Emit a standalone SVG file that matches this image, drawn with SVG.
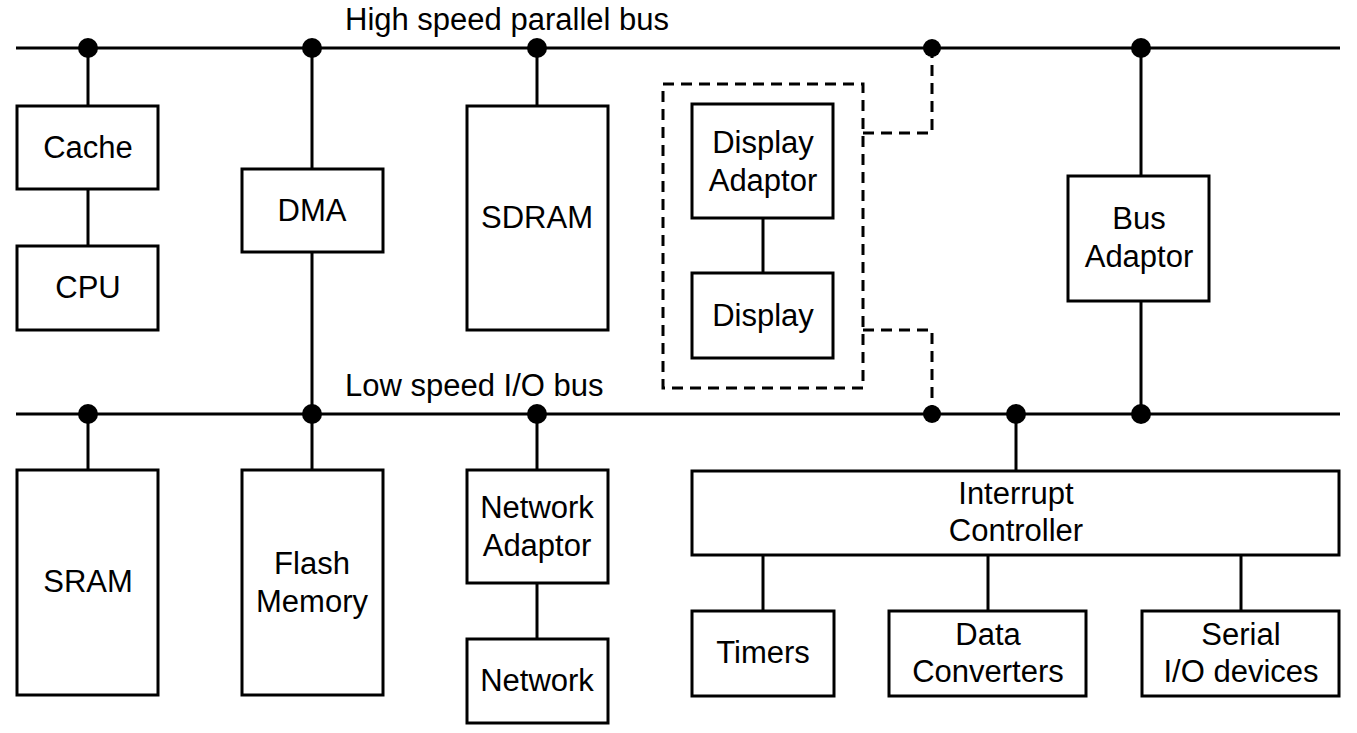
<svg xmlns="http://www.w3.org/2000/svg" width="1357" height="733" viewBox="0 0 1357 733">
<style>
.box{fill:#fff;stroke:#000;stroke-width:3}
.ln{stroke:#000;stroke-width:3;fill:none}
.dash{stroke:#000;stroke-width:3;fill:none;stroke-dasharray:11 7}
.dot{fill:#000}
text{font-family:"Liberation Sans",Arial,sans-serif;font-size:31px;fill:#000;text-anchor:middle}
.lbl{text-anchor:start}
</style>
<rect width="1357" height="733" fill="#fff"/>
<g id="connectors">
<line class="ln" x1="16" y1="48" x2="1340" y2="48"/>
<line class="ln" x1="16" y1="414" x2="1340" y2="414"/>
<line class="ln" x1="88" y1="48" x2="88" y2="106"/>
<line class="ln" x1="88" y1="189" x2="88" y2="246"/>
<line class="ln" x1="312" y1="48" x2="312" y2="470"/>
<line class="ln" x1="537" y1="48" x2="537" y2="106"/>
<line class="ln" x1="763" y1="218" x2="763" y2="273"/>
<line class="ln" x1="1141" y1="48" x2="1141" y2="414"/>
<line class="ln" x1="88" y1="414" x2="88" y2="470"/>
<line class="ln" x1="537" y1="414" x2="537" y2="470"/>
<line class="ln" x1="537" y1="583" x2="537" y2="639"/>
<line class="ln" x1="1016" y1="414" x2="1016" y2="471"/>
<line class="ln" x1="763" y1="555" x2="763" y2="611"/>
<line class="ln" x1="988" y1="555" x2="988" y2="611"/>
<line class="ln" x1="1241" y1="555" x2="1241" y2="611"/>
<polyline class="dash" points="863,133 932,133 932,48"/>
<polyline class="dash" points="863,330 932,330 932,414"/>
<circle class="dot" cx="88" cy="48" r="10"/>
<circle class="dot" cx="312" cy="48" r="10"/>
<circle class="dot" cx="537" cy="48" r="10"/>
<circle class="dot" cx="932" cy="48" r="9"/>
<circle class="dot" cx="1141" cy="48" r="10"/>
<circle class="dot" cx="88" cy="414" r="10"/>
<circle class="dot" cx="312" cy="414" r="10"/>
<circle class="dot" cx="537" cy="414" r="10"/>
<circle class="dot" cx="932" cy="414" r="9"/>
<circle class="dot" cx="1016" cy="414" r="10"/>
<circle class="dot" cx="1141" cy="414" r="10"/>
</g>
<g id="bus-labels">
<text class="lbl" x="345" y="30">High speed parallel bus</text>
<text class="lbl" x="345" y="396">Low speed I/O bus</text>
</g>
<g id="cache"><rect class="box" x="17" y="106" width="141" height="83"/><text x="88" y="158">Cache</text></g>
<g id="cpu"><rect class="box" x="17" y="246" width="141" height="84"/><text x="88" y="298">CPU</text></g>
<g id="dma"><rect class="box" x="242" y="169" width="141" height="83"/><text x="312" y="221">DMA</text></g>
<g id="sdram"><rect class="box" x="467" y="106" width="141" height="224"/><text x="537" y="228">SDRAM</text></g>
<g id="display-group"><rect class="dash" x="663" y="84" width="200" height="304"/></g>
<g id="display-adaptor"><rect class="box" x="692" y="104" width="141" height="114"/><text x="763" y="153">Display</text><text x="763" y="191">Adaptor</text></g>
<g id="display"><rect class="box" x="692" y="273" width="141" height="85"/><text x="763" y="326">Display</text></g>
<g id="bus-adaptor"><rect class="box" x="1068" y="176" width="141" height="125"/><text x="1139" y="229">Bus</text><text x="1139" y="267">Adaptor</text></g>
<g id="sram"><rect class="box" x="17" y="470" width="141" height="225"/><text x="88" y="592">SRAM</text></g>
<g id="flash"><rect class="box" x="242" y="470" width="141" height="225"/><text x="312" y="574">Flash</text><text x="312" y="612">Memory</text></g>
<g id="network-adaptor"><rect class="box" x="467" y="470" width="141" height="113"/><text x="537" y="518">Network</text><text x="537" y="556">Adaptor</text></g>
<g id="network"><rect class="box" x="467" y="639" width="141" height="84"/><text x="537" y="691">Network</text></g>
<g id="interrupt-controller"><rect class="box" x="692" y="471" width="647" height="84"/><text x="1016" y="504">Interrupt</text><text x="1016" y="541">Controller</text></g>
<g id="timers"><rect class="box" x="692" y="611" width="142" height="85"/><text x="763" y="663">Timers</text></g>
<g id="data-converters"><rect class="box" x="889" y="611" width="197" height="85"/><text x="988" y="645">Data</text><text x="988" y="682">Converters</text></g>
<g id="serial-io"><rect class="box" x="1142" y="611" width="197" height="85"/><text x="1241" y="645">Serial</text><text x="1241" y="682">I/O devices</text></g>
</svg>
